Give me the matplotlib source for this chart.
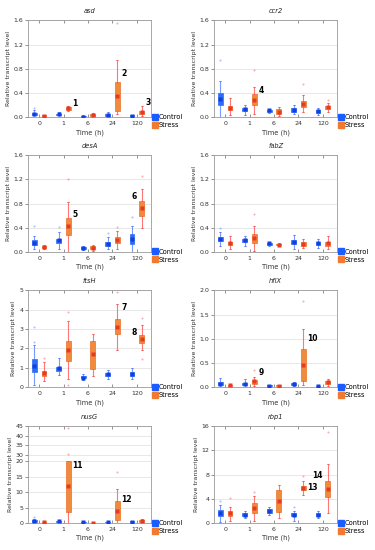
#!/usr/bin/env python3
import numpy as np
import matplotlib.pyplot as plt
from matplotlib.lines import Line2D

times = ['0', '1', '6', '24', '120']

# box stats per time point: [whisker low, q1, median, q3, whisker high]
asd_control = [[0.0, 0.03, 0.05, 0.07, 0.12], [0.0, 0.03, 0.05, 0.06, 0.09], [0.0, 0.005, 0.01, 0.02, 0.03],
               [0.0, 0.02, 0.04, 0.05, 0.08], [0.0, 0.01, 0.02, 0.03, 0.04]]
asd_stress = [[0.0, 0.01, 0.02, 0.03, 0.04], [0.10, 0.12, 0.15, 0.17, 0.19], [0.01, 0.02, 0.04, 0.05, 0.07],
              [0.05, 0.10, 0.35, 0.58, 0.94], [0.02, 0.05, 0.08, 0.10, 0.18]]
asd_control_out = [[0.15], [], [], [], []]
asd_stress_out = [[], [], [], [1.56], []]
asd_marks = [(1, 0.22, '1'), (3, 0.72, '2'), (4, 0.25, '3')]

ccr2_control = [[0.0, 0.20, 0.30, 0.40, 0.60], [0.03, 0.10, 0.13, 0.15, 0.20], [0.07, 0.09, 0.11, 0.12, 0.13],
                [0.05, 0.09, 0.12, 0.15, 0.20], [0.04, 0.07, 0.10, 0.12, 0.15]]
ccr2_stress = [[0.04, 0.12, 0.15, 0.18, 0.32], [0.05, 0.20, 0.28, 0.38, 0.50], [0.02, 0.05, 0.09, 0.13, 0.16],
               [0.08, 0.16, 0.22, 0.27, 0.36], [0.08, 0.14, 0.17, 0.19, 0.23]]
ccr2_control_out = [[0.94], [], [], [], []]
ccr2_stress_out = [[], [0.78], [], [0.55], [0.28]]
ccr2_marks = [(1, 0.44, '4')]

desA_control = [[0.04, 0.12, 0.15, 0.20, 0.27], [0.05, 0.14, 0.19, 0.22, 0.33], [0.03, 0.05, 0.07, 0.08, 0.10],
                [0.04, 0.09, 0.13, 0.16, 0.25], [0.0, 0.13, 0.22, 0.30, 0.43]]
desA_stress = [[0.05, 0.07, 0.08, 0.09, 0.12], [0.0, 0.28, 0.42, 0.56, 0.83], [0.02, 0.05, 0.07, 0.09, 0.11],
               [0.05, 0.15, 0.20, 0.25, 0.35], [0.40, 0.60, 0.72, 0.84, 1.04]]
desA_control_out = [[0.42], [0.41], [], [0.32], [0.58]]
desA_stress_out = [[], [1.21], [], [0.41], [1.25]]
desA_marks = [(1, 0.62, '5'), (4, 0.92, '6')]

fabZ_control = [[0.10, 0.18, 0.22, 0.25, 0.33], [0.10, 0.16, 0.19, 0.21, 0.27], [0.09, 0.12, 0.14, 0.15, 0.17],
                [0.04, 0.13, 0.17, 0.20, 0.28], [0.07, 0.12, 0.14, 0.17, 0.21]]
fabZ_stress = [[0.04, 0.12, 0.15, 0.17, 0.27], [0.01, 0.15, 0.23, 0.30, 0.43], [0.10, 0.11, 0.12, 0.13, 0.14],
               [0.06, 0.10, 0.13, 0.16, 0.22], [0.04, 0.10, 0.14, 0.17, 0.26]]
fabZ_control_out = [[0.39], [], [], [], []]
fabZ_stress_out = [[], [0.63], [], [], []]
fabZ_marks = []

ftsH_control = [[0.1, 0.8, 1.1, 1.45, 2.2], [0.65, 0.85, 1.0, 1.05, 1.5], [0.35, 0.45, 0.5, 0.6, 0.7],
                [0.4, 0.6, 0.7, 0.75, 0.9], [0.4, 0.6, 0.7, 0.8, 1.0]]
ftsH_stress = [[0.3, 0.6, 0.75, 0.85, 1.3], [0.4, 1.35, 1.9, 2.4, 3.4], [0.6, 0.95, 1.7, 2.4, 2.75],
               [1.9, 2.75, 3.1, 3.5, 4.3], [1.9, 2.3, 2.5, 2.7, 3.2]]
ftsH_control_out = [[2.35, 3.1], [], [], [], []]
ftsH_stress_out = [[1.5], [0.1, 3.9], [], [4.9], [1.45, 3.6]]
ftsH_marks = [(3, 4.1, '7'), (4, 2.8, '8')]

hflX_control = [[0.0, 0.04, 0.07, 0.10, 0.18], [0.0, 0.04, 0.07, 0.09, 0.17], [0.01, 0.02, 0.03, 0.04, 0.05],
                [0.02, 0.04, 0.06, 0.08, 0.10], [0.0, 0.01, 0.02, 0.03, 0.04]]
hflX_stress = [[0.01, 0.02, 0.04, 0.05, 0.06], [0.02, 0.07, 0.12, 0.15, 0.22], [0.01, 0.015, 0.03, 0.04, 0.05],
               [0.05, 0.13, 0.45, 0.78, 1.20], [0.03, 0.07, 0.10, 0.12, 0.16]]
hflX_control_out = [[], [], [], [], []]
hflX_stress_out = [[], [0.35], [], [1.78], []]
hflX_marks = [(1, 0.30, '9'), (3, 1.0, '10')]

nusG_control = [[0.0, 0.3, 0.6, 0.9, 1.3], [0.1, 0.3, 0.5, 0.7, 0.9], [0.0, 0.1, 0.2, 0.3, 0.4],
                [0.0, 0.1, 0.2, 0.3, 0.4], [0.0, 0.15, 0.3, 0.5, 0.7]]
nusG_stress = [[0.0, 0.1, 0.3, 0.4, 0.6], [0.0, 3.6, 12.0, 20.0, 20.0], [0.0, 0.05, 0.1, 0.15, 0.2],
               [0.0, 1.0, 4.0, 7.0, 11.0], [0.1, 0.3, 0.6, 0.9, 1.2]]
nusG_control_out = [[2.0], [], [], [], []]
nusG_stress_out = [[], [30.5, 44.0], [], [16.5], []]
nusG_marks = [(1, 18.5, '11'), (3, 7.5, '12')]

rbp1_control = [[0.2, 1.2, 1.6, 2.1, 3.0], [0.8, 1.2, 1.4, 1.6, 2.0], [1.3, 1.7, 2.0, 2.3, 2.6],
                [0.3, 1.1, 1.4, 1.7, 2.0], [0.8, 1.2, 1.4, 1.6, 2.0]]
rbp1_stress = [[0.4, 1.1, 1.6, 2.0, 2.7], [0.4, 1.7, 2.5, 3.3, 4.5], [0.9, 1.8, 3.7, 5.5, 6.3],
               [4.6, 5.4, 5.8, 6.2, 6.9], [1.6, 4.3, 5.7, 7.0, 9.8]]
rbp1_control_out = [[3.6], [], [], [2.6], []]
rbp1_stress_out = [[4.1], [5.2], [], [7.8], [15.0]]
rbp1_marks = [(3, 5.8, '13'), (4, 7.8, '14')]

CTRL_BOX = '#2c6cf6'
CTRL_MED = '#1040e0'
CTRL_LINE = '#4a78ff'
STR_BOX = '#f28a3c'
STR_EDGE = '#e8702a'
STR_MED = '#e83a22'
STR_LINE = '#ff4a4a'

plt.rcParams['font.family'] = ['DejaVu Sans']
plt.rcParams['font.size'] = 4.5

fig = plt.figure(figsize=(3.75, 5.5), dpi=100)

col_x = [0.075, 0.571]
row_b = [0.787, 0.542, 0.296, 0.049]
w, h = 0.328, 0.176


def nusg_fwd(y):
    y = np.asarray(y, dtype=float)
    return np.where(y <= 20, y, np.where(y < 30, 20 + (y - 20) * 0.19, 21.9 + (y - 30) * 0.62))


def nusg_inv(v):
    v = np.asarray(v, dtype=float)
    return np.where(v <= 20, v, np.where(v < 21.9, 20 + (v - 20) / 0.19, 30 + (v - 21.9) / 0.62))


def stats(rows, outs):
    return [dict(whislo=r[0], q1=r[1], med=r[2], q3=r[3], whishi=r[4], fliers=o) for r, o in zip(rows, outs)]


def panel(ax, name, ctrl, strs, ctrl_out, str_out, marks, yticks, ylabels, ymax):
    x = np.arange(len(times))
    pc, ps = x - 0.2, x + 0.2
    ax.bxp(stats(ctrl, ctrl_out), positions=pc, widths=0.2, patch_artist=True, showcaps=True, capwidths=0.08,
           boxprops=dict(facecolor=CTRL_BOX, edgecolor=CTRL_BOX, linewidth=0.5),
           whiskerprops=dict(color=CTRL_LINE, linewidth=0.8, alpha=0.75),
           capprops=dict(color=CTRL_LINE, linewidth=0.6, alpha=0.75),
           medianprops=dict(linewidth=0),
           flierprops=dict(marker='o', markersize=1.5, markerfacecolor=CTRL_LINE, markeredgecolor='none', alpha=0.45),
           zorder=3)
    ax.bxp(stats(strs, str_out), positions=ps, widths=0.2, patch_artist=True, showcaps=True, capwidths=0.08,
           boxprops=dict(facecolor=STR_BOX, edgecolor=STR_EDGE, linewidth=0.5),
           whiskerprops=dict(color=STR_LINE, linewidth=0.8, alpha=0.75),
           capprops=dict(color=STR_LINE, linewidth=0.6, alpha=0.75),
           medianprops=dict(linewidth=0),
           flierprops=dict(marker='o', markersize=1.5, markerfacecolor=STR_LINE, markeredgecolor='none', alpha=0.45),
           zorder=3)
    ax.plot(pc, [r[2] for r in ctrl], 's', ms=2.6, color=CTRL_MED, mec='none', zorder=4)
    ax.plot(ps, [r[2] for r in strs], 's', ms=2.6, color=STR_MED, mec='none', zorder=4)
    for i, y, t in marks:
        if t in ('6', '8', '14'):
            ax.text(ps[i] - 0.2, y, t, ha='right', va='center', fontsize=5.5, fontweight='bold')
        else:
            ax.text(ps[i] + 0.17, y, t, ha='left', va='center', fontsize=5.5, fontweight='bold')

    ax.set_xlim(-0.45, 4.58)
    ax.set_ylim(0, ymax)
    ax.set_yticks(yticks)
    ax.set_yticklabels(ylabels)
    ax.set_xticks(x)
    ax.set_xticklabels(times)
    ax.yaxis.grid(True, color='#e4e4e4', linewidth=0.6)
    ax.set_axisbelow(True)
    ax.tick_params(axis='x', top=True, direction='in', length=2, width=0.5, color='#666666', pad=3)
    ax.tick_params(axis='y', length=2, width=0.5, color='#666666', pad=1.5)
    ax.tick_params(labelsize=4.5, labelcolor='#333333')
    for s in ax.spines.values():
        s.set_color('#9a9a9a')
        s.set_linewidth(0.6)
    ax.set_title(name, fontsize=4.8, style='italic', pad=5, color='#222222')
    ax.set_xlabel('Time (h)', fontsize=4.8, labelpad=2, color='#333333')
    ax.set_ylabel('Relative transcript level', fontsize=4.5, labelpad=2, color='#333333')
    handles = [Line2D([], [], marker='s', ls='none', ms=4, color='#1a5cff', label='Control'),
               Line2D([], [], marker='s', ls='none', ms=4, color='#f07a30', label='Stress')]
    ax.legend(handles=handles, loc='lower left', bbox_to_anchor=(0.99, -0.14), frameon=False, fontsize=4.8,
              handlelength=0.6, handletextpad=0.3, borderaxespad=0, labelspacing=0.3)


f1 = ['0.0', '0.4', '0.8', '1.2', '1.6']
t1 = [0, 0.4, 0.8, 1.2, 1.6]

ax = fig.add_axes([col_x[0], row_b[0], w, h])
panel(ax, 'asd', asd_control, asd_stress, asd_control_out, asd_stress_out, asd_marks, t1, f1, 1.6)
ax = fig.add_axes([col_x[1], row_b[0], w, h])
panel(ax, 'ccr2', ccr2_control, ccr2_stress, ccr2_control_out, ccr2_stress_out, ccr2_marks, t1, f1, 1.6)
ax = fig.add_axes([col_x[0], row_b[1], w, h])
panel(ax, 'desA', desA_control, desA_stress, desA_control_out, desA_stress_out, desA_marks, t1, f1, 1.6)
ax = fig.add_axes([col_x[1], row_b[1], w, h])
panel(ax, 'fabZ', fabZ_control, fabZ_stress, fabZ_control_out, fabZ_stress_out, fabZ_marks, t1, f1, 1.6)
ax = fig.add_axes([col_x[0], row_b[2], w, h])
panel(ax, 'ftsH', ftsH_control, ftsH_stress, ftsH_control_out, ftsH_stress_out, ftsH_marks,
      [0, 1, 2, 3, 4, 5], ['0', '1', '2', '3', '4', '5'], 5)
ax = fig.add_axes([col_x[1], row_b[2], w, h])
panel(ax, 'hflX', hflX_control, hflX_stress, hflX_control_out, hflX_stress_out, hflX_marks,
      [0, 0.5, 1.0, 1.5, 2.0], ['0.0', '0.5', '1.0', '1.5', '2.0'], 2.0)
ax = fig.add_axes([col_x[0], row_b[3], w, h])
ax.set_yscale('function', functions=(nusg_fwd, nusg_inv))
panel(ax, 'nusG', nusG_control, nusG_stress, nusG_control_out, nusG_stress_out, nusG_marks,
      [0, 5, 10, 15, 20, 30, 35, 40, 45], ['0', '5', '10', '15', '20', '30', '35', '40', '45'], 45)
ax = fig.add_axes([col_x[1], row_b[3], w, h])
panel(ax, 'rbp1', rbp1_control, rbp1_stress, rbp1_control_out, rbp1_stress_out, rbp1_marks,
      [0, 4, 8, 12, 16], ['0', '4', '8', '12', '16'], 16)

fig.savefig('out.png', dpi=100)
